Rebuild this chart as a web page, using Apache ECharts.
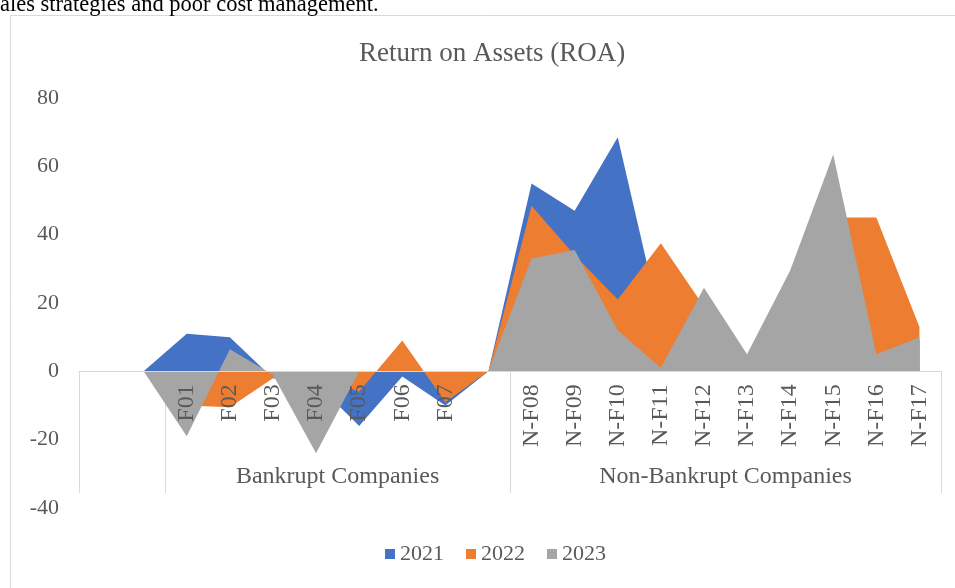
<!DOCTYPE html>
<html>
<head>
<meta charset="utf-8">
<script src="https://cdn.jsdelivr.net/npm/echarts@6/dist/echarts.min.js"></script>
<style>
html,body{margin:0;padding:0;background:#fff;}
#chart{width:955px;height:588px;}
</style>
</head>
<body>
<div id="chart"></div>
<script>
// ---- data ----
var categories = ['', '', 'F01', 'F02', 'F03', 'F04', 'F05', 'F06', 'F07', '',
  'N-F08', 'N-F09', 'N-F10', 'N-F11', 'N-F12', 'N-F13', 'N-F14', 'N-F15', 'N-F16', 'N-F17'];
var groupNames = ['', 'Bankrupt Companies', 'Non-Bankrupt Companies'];
var groupSpans = [2, 8, 10];
var seriesNames = ['2021', '2022', '2023'];
var roa2021 = [null, 0, 11, 10, -2, -3.5, -16, -1.5, -10, 0, 55, 47, 68.5, 14, 8, 3, 12, 25, 10, 9];
var roa2022 = [null, 0, -10, -10.5, -2, -1, -6, 9, -9, 0, 48.5, 34, 21, 37.5, 19, 3, 20, 45, 45, 13];
var roa2023 = [null, 0, -19, 6.5, -1, -24, 0, 0, 0, 0, 33, 35.5, 12, 1, 24.5, 5, 29.5, 63.5, 5, 10];
var yTicks = {min: -40, max: 80, interval: 20};
var titleText = 'Return on Assets (ROA)';
var pageText = 'ales strategies and poor cost management.';

// ---- build group axis (half-category steps) ----
var nHalf = categories.length * 2;
var groupAxisData = [];
for (var k = 0; k <= nHalf; k++) groupAxisData.push('');
var boundaries = [0];
var labelIdx = {};
var pos = 0;
for (var g = 0; g < groupSpans.length; g++) {
  groupAxisData[pos * 2 + groupSpans[g]] = groupNames[g];
  labelIdx[pos * 2 + groupSpans[g]] = true;
  pos += groupSpans[g];
  boundaries.push(pos * 2);
}

var colors = ['#4472C4', '#ED7D31', '#A5A5A5'];
var font = 'Liberation Serif';
var txt = '#595959';

// grid geometry
var gridTop = 98, gridBottom = 80, H = 588;
var plotH = H - gridTop - gridBottom;
var zeroFromBottom = plotH * (0 - yTicks.min) / (yTicks.max - yTicks.min);

var chart = echarts.init(document.getElementById('chart'), null, {renderer: 'canvas'});
var dataSets = [roa2021, roa2022, roa2023];
var series = seriesNames.map(function (n, i) {
  return {
    name: n,
    type: 'line',
    data: dataSets[i],
    showSymbol: false,
    symbol: 'none',
    lineStyle: {opacity: 0, width: 0},
    areaStyle: {color: colors[i], opacity: 1},
    itemStyle: {color: colors[i]},
    emphasis: {disabled: true},
    z: 2 + i
  };
});

chart.setOption({
  animation: false,
  backgroundColor: '#fff',
  graphic: [
    {type: 'rect', shape: {x: 10.5, y: 15.5, width: 960, height: 600},
     style: {fill: 'none', stroke: '#d9d9d9', lineWidth: 1}, silent: true, z: -10},
    {type: 'text', left: 0, top: -6,
     style: {text: pageText, fill: '#000', font: '22.5px "Liberation Serif"'}, silent: true}
  ],
  title: {
    text: titleText, left: 354, top: 35,
    textStyle: {fontFamily: font, fontSize: 27, fontWeight: 'normal', color: txt}
  },
  legend: {
    data: seriesNames, bottom: 18, left: 380,
    icon: 'rect', itemWidth: 10, itemHeight: 10, itemGap: 22, itemTextGap: 8,
    textStyle: {fontFamily: font, fontSize: 22, color: txt}
  },
  grid: {left: 79, right: 14, top: gridTop, bottom: gridBottom, containLabel: false},
  xAxis: [{
    type: 'category', data: categories, boundaryGap: true, position: 'bottom',
    offset: -zeroFromBottom, z: 10,
    axisLine: {show: true, onZero: false, lineStyle: {color: '#d9d9d9', width: 1}},
    axisTick: {show: false},
    axisLabel: {rotate: 90, margin: 13, interval: 0, fontFamily: font, fontSize: 24, color: txt},
    splitLine: {show: false}
  }, {
    type: 'category', data: groupAxisData, boundaryGap: false, position: 'bottom', offset: -15,
    axisLine: {show: false, onZero: false},
    axisTick: {show: true, inside: true, length: 122, alignWithLabel: false,
      interval: function (i) { return boundaries.indexOf(i) >= 0; },
      lineStyle: {color: '#d9d9d9', width: 1}},
    axisLabel: {show: true, inside: true, margin: 4,
      interval: function (i) { return !!labelIdx[i]; },
      fontFamily: font, fontSize: 24, color: txt},
    splitLine: {show: false}
  }],
  yAxis: {
    type: 'value', min: yTicks.min, max: yTicks.max, interval: yTicks.interval,
    axisLine: {show: false}, axisTick: {show: false}, splitLine: {show: false},
    axisLabel: {margin: 20, fontFamily: font, fontSize: 22, color: txt}
  },
  series: series
});
</script>
</body>
</html>
